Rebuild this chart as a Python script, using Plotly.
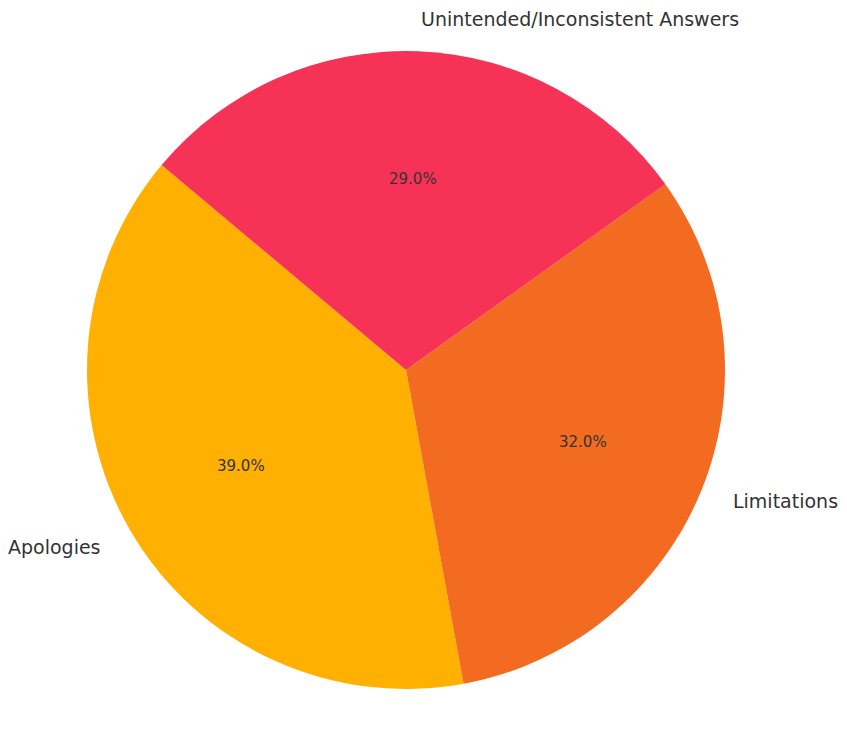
"""Pie chart of response categories, matplotlib-style labels."""

import numpy as np
import plotly.graph_objects as go

labels = ["Apologies", "Limitations", "Unintended/Inconsistent Answers"]
values = [39.0, 32.0, 29.0]
colors = ["#FFB000", "#F26B21", "#F63357"]

START_ANGLE = 140  # degrees, counterclockwise from 3 o'clock
W, H = 847, 731
PAGE_MARGIN = 8  # default body margin of the html page
CX, CY, R = 406 - PAGE_MARGIN, 370 - PAGE_MARGIN, 319  # pie centre/radius, px

total = sum(values)
# plotly (ccw): the first slice ends at `rotation` (clockwise from 12 o'clock)
rotation = 90 - START_ANGLE - 360 * values[0] / total

fig = go.Figure(
    go.Pie(
        labels=labels,
        values=values,
        marker={"colors": colors, "line": {"width": 0}},
        sort=False,
        direction="counterclockwise",
        rotation=rotation,
        textinfo="none",
        hoverinfo="label+percent",
        showlegend=False,
        domain={
            "x": [(CX - R) / W, (CX + R) / W],
            "y": [(H - CY - R) / H, (H - CY + R) / H],
        },
    )
)

# label / percent positions like matplotlib (1.1 r and 0.6 r on mid angle)
angle = START_ANGLE
annotations = []
cx, cy = CX / W, (H - CY) / H
rx, ry = R / W, R / H
for lab, val in zip(labels, values):
    span = 360 * val / total
    mid = np.radians(angle + span / 2)
    angle += span
    dx, dy = np.cos(mid), np.sin(mid)
    annotations.append(
        dict(
            x=cx + 1.1 * dx * rx,
            y=cy + 1.1 * dy * ry,
            text=lab,
            showarrow=False,
            xanchor="left" if dx > 0 else "right",
            yanchor="middle",
            font={"size": 19, "color": "#333333"},
        )
    )
    annotations.append(
        dict(
            x=cx + 0.6 * dx * rx,
            y=cy + 0.6 * dy * ry,
            text=f"{100 * val / total:.1f}%",
            showarrow=False,
            xanchor="center",
            yanchor="middle",
            font={"size": 15, "color": "#333333"},
        )
    )

fig.update_layout(
    width=W,
    height=H,
    margin={"l": 0, "r": 0, "t": 0, "b": 0},
    paper_bgcolor="white",
    font={"family": "DejaVu Sans"},
    annotations=annotations,
)

fig.write_html("out.html")
